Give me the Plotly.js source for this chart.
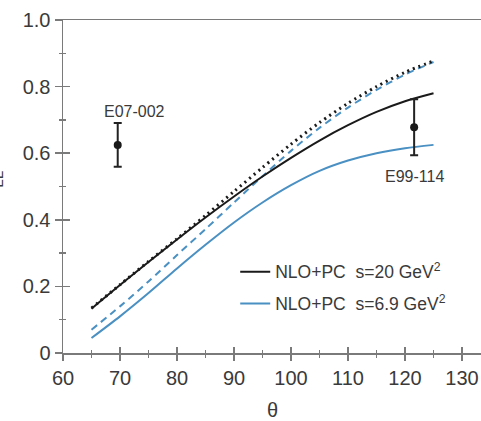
<!DOCTYPE html>
<html>
<head>
<meta charset="utf-8">
<script src="https://cdn.plot.ly/plotly-3.0.1.min.js"></script>
<style>html,body{margin:0;padding:0;background:#fff;}#chart{width:481px;height:421px;}</style>
</head>
<body>
<div id="chart"></div>
<script>
// ---- data ----
const theta = [65, 70, 75, 80, 85, 90, 95, 100, 105, 110, 115, 120, 125];
const nloS20 = [0.133, 0.204, 0.273, 0.341, 0.407, 0.470, 0.530, 0.586, 0.638, 0.684, 0.724, 0.756, 0.780];
const dottedS20 = [0.135, 0.205, 0.275, 0.343, 0.413, 0.485, 0.557, 0.627, 0.692, 0.750, 0.800, 0.843, 0.877];
const nloS69 = [0.045, 0.110, 0.180, 0.254, 0.325, 0.392, 0.452, 0.504, 0.547, 0.578, 0.600, 0.615, 0.625];
const dashedS69 = [0.070, 0.140, 0.215, 0.294, 0.372, 0.452, 0.531, 0.607, 0.676, 0.737, 0.790, 0.836, 0.874];
const expNames = ['E07-002', 'E99-114'];
const expTheta = [69.6, 121.6];
const expVal = [0.625, 0.678];
const expErr = [0.066, 0.084];
const xTickVals = [60, 70, 80, 90, 100, 110, 120, 130];
const yTickVals = [0, 0.2, 0.4, 0.6, 0.8, 1.0];
const yTickText = ['0', '0.2', '0.4', '0.6', '0.8', '1.0'];
const legendNames = ['NLO+PC\u00a0\u00a0s=20 GeV<sup>2</sup>', 'NLO+PC\u00a0\u00a0s=6.9 GeV<sup>2</sup>'];

const black = '#1a1a1a';
const blue = '#4a90c2';
const axisCol = '#7a7a7a';
const textCol = '#3a3a3a';
const FONT = 'Liberation Sans, Arial, Helvetica, sans-serif';

const traces = [
  {x: theta, y: dashedS69, mode: 'lines', line: {color: blue, width: 2, dash: '7px,5px', shape: 'spline', smoothing: 0.8}, showlegend: false, hoverinfo: 'skip'},
  {x: theta, y: nloS69, mode: 'lines', name: legendNames[1], legendgroup: 'b', line: {color: blue, width: 2, shape: 'spline', smoothing: 0.8}, legendrank: 2},
  {x: theta, y: nloS20, mode: 'lines', name: legendNames[0], legendgroup: 'a', line: {color: black, width: 2, shape: 'spline', smoothing: 0.8}, legendrank: 1},
  {x: theta, y: dottedS20, mode: 'lines', line: {color: black, width: 3, dash: '2px,4px', shape: 'spline', smoothing: 0.8}, showlegend: false, hoverinfo: 'skip'},
  {x: expTheta, y: expVal, mode: 'markers', marker: {color: black, size: 8}, showlegend: false,
   error_y: {type: 'data', array: expErr, visible: true, color: '#222', thickness: 2, width: 4}},
  {x: [60], y: [0], xaxis: 'x2', yaxis: 'y2', mode: 'markers', marker: {opacity: 0}, showlegend: false, hoverinfo: 'skip'}
];

const xRange = [60, 133.33];
const yRange = [0, 1];
const tickFont = {family: FONT, size: 20, color: textCol};

const layout = {
  width: 481, height: 421,
  margin: {l: 63, r: 0, t: 20, b: 68},
  paper_bgcolor: '#fff', plot_bgcolor: '#fff',
  showlegend: true,
  legend: {x: 0.412, y: 0.298, xanchor: 'left', yanchor: 'top', bgcolor: 'rgba(0,0,0,0)',
           font: {family: FONT, size: 17.5, color: textCol}, itemwidth: 30, tracegroupgap: 6},
  xaxis: {range: xRange, tickvals: xTickVals, ticks: 'outside', ticklen: 6, tickwidth: 1.5, tickcolor: axisCol,
          showline: true, linecolor: axisCol, linewidth: 1.5, mirror: true, showgrid: false, zeroline: false,
          tickfont: tickFont, minor: {dtick: 5, tick0: 60, ticks: 'outside', ticklen: 3, tickcolor: axisCol, tickwidth: 1.5}},
  yaxis: {range: yRange, tickvals: yTickVals, ticktext: yTickText, ticks: 'outside', ticklen: 7, tickwidth: 1.5, tickcolor: axisCol,
          showline: true, linecolor: axisCol, linewidth: 1.5, showgrid: false, zeroline: false,
          tickfont: tickFont, minor: {dtick: 0.1, tick0: 0, ticks: 'outside', ticklen: 3, tickcolor: axisCol, tickwidth: 1.5}},
  xaxis2: {overlaying: 'x', anchor: 'y2', range: xRange, tickvals: xTickVals, ticks: 'inside', ticklen: 6, tickwidth: 1.5, tickcolor: axisCol,
           showticklabels: false, showline: false, showgrid: false, zeroline: false,
           minor: {dtick: 5, tick0: 60, ticks: 'inside', ticklen: 3, tickcolor: axisCol, tickwidth: 1.5}},
  yaxis2: {overlaying: 'y', anchor: 'x2', range: yRange, tickvals: yTickVals, ticks: 'inside', ticklen: 7, tickwidth: 1.5, tickcolor: axisCol,
           showticklabels: false, showline: false, showgrid: false, zeroline: false,
           minor: {dtick: 0.1, tick0: 0, ticks: 'inside', ticklen: 3, tickcolor: axisCol, tickwidth: 1.5}},
  annotations: [
    {xref: 'x', yref: 'y', x: expTheta[0] + 3, y: 0.724, text: expNames[0], showarrow: false,
     font: {family: FONT, size: 16, color: textCol}, xanchor: 'center', yanchor: 'middle'},
    {xref: 'x', yref: 'y', x: expTheta[1], y: 0.529, text: expNames[1], showarrow: false,
     font: {family: FONT, size: 16, color: textCol}, xanchor: 'center', yanchor: 'middle'},
    {xref: 'paper', yref: 'paper', x: 0.502, y: -0.171, text: '\u03b8', showarrow: false,
     font: {family: FONT, size: 20, color: textCol}, xanchor: 'center', yanchor: 'middle'},
    {xref: 'paper', yref: 'paper', x: (8 - 63) / 418, y: 0.5, text: 'K<sub>LL</sub>', showarrow: false, textangle: -90,
     font: {family: FONT, size: 22, color: textCol}, xanchor: 'right', yanchor: 'middle'}
  ]
};

Plotly.newPlot('chart', traces, layout, {displayModeBar: false, staticPlot: true});
</script>
</body>
</html>
